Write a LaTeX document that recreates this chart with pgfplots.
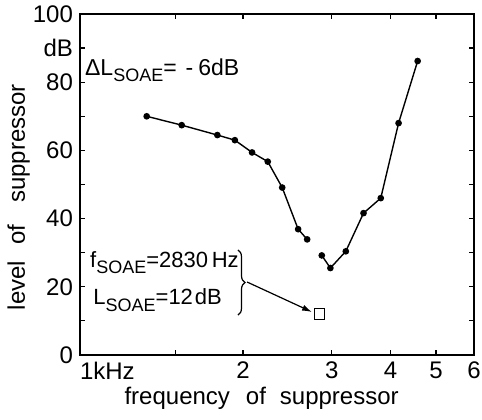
\documentclass[border=0pt]{standalone}
\usepackage{fontspec}
\setmainfont{Liberation Sans}
\usepackage{pgfplots}
\pgfplotsset{compat=1.18}
\usetikzlibrary{calc,arrows.meta,decorations.pathreplacing}
\newcommand{\soae}{\raisebox{-3.3pt}{\fontsize{9}{9}\selectfont SOAE}}
\begin{document}
\begin{tikzpicture}
\begin{axis}[
  name=ax,
  scale only axis,
  width=197pt, height=170.5pt,
  xmin=1, xmax=6, ymin=0, ymax=100,
  x coord trafo/.code={\pgfmathparse{13*rad(atan(0.76*#1))+3.5*rad(atan((#1/7.5)^2))}},
  xtick={1,1.5,2,3,4,5,6},
  xticklabels={\rlap{1kHz},,2,3,4,5,6},
  ytick={0,10,...,100},
  yticklabels={0,,20,,40,,60,,80,dB,100},
  tick align=inside,
  major tick length=2.5pt,
  tick style={black, line width=0.6pt},
  axis line style={line width=0.8pt},
  tick label style={font=\fontsize{12}{12}\selectfont},
  clip=false,
]
\addplot[black, line width=0.7pt, mark=*, mark size=1.3pt] coordinates {
  (1.33,70) (1.54,67.4) (1.79,64.5) (1.93,63) (2.08,59.4) (2.23,56.7) (2.38,49.1) (2.56,36.9) (2.67,33.9)};
\addplot[black, line width=0.7pt, mark=*, mark size=1.3pt] coordinates {
  (2.86,29.2) (2.98,25.5) (3.21,30.4) (3.5,41.6) (3.81,46) (4.16,68) (4.57,86.2)};
\addplot[black, only marks, mark=square, mark size=2.6pt, mark options={line width=0.6pt}] coordinates {(2.83,12)};
\node[anchor=base west, inner sep=0pt, font=\fontsize{11.5}{12}\selectfont] at (rel axis cs:0.012,0.821) {ΔL\soae{}=\hspace{4.5pt}-\hspace{2.5pt}6dB};
\node[anchor=base west, inner sep=0pt, font=\fontsize{11}{12}\selectfont] at (rel axis cs:0.025,0.258) {f\soae{}=2830\,Hz};
\node[anchor=base west, inner sep=0pt, font=\fontsize{11}{12}\selectfont] at (rel axis cs:0.033,0.147) {L\soae{}=12\kern1pt dB};
\draw[decorate, decoration={brace, amplitude=3.5pt}, line width=0.6pt] (rel axis cs:0.401,0.308) -- (rel axis cs:0.401,0.117);
\draw[-{Latex[length=5pt,width=3pt]}, line width=0.6pt] (rel axis cs:0.424,0.214) -- (rel axis cs:0.589,0.126);
\end{axis}
\node[anchor=base, inner sep=0pt, font=\fontsize{12}{12}\selectfont] at ($(ax.south west)!0.461!(ax.south east)+(0,-25pt)$) {frequency\hspace{8pt}of\hspace{7pt}suppressor};
\node[rotate=90, anchor=base, inner sep=0pt, font=\fontsize{12}{12}\selectfont] at ($(ax.south west)!0.463!(ax.north west)+(-27.5pt,0)$) {level\hspace{8pt}of\hspace{11pt}suppressor};
\pgfresetboundingbox
\path[use as bounding box] ($(ax.south west)+(-40pt,-32.5pt)$) rectangle ($(ax.north east)+(4pt,7pt)$);
\end{tikzpicture}
\end{document}
